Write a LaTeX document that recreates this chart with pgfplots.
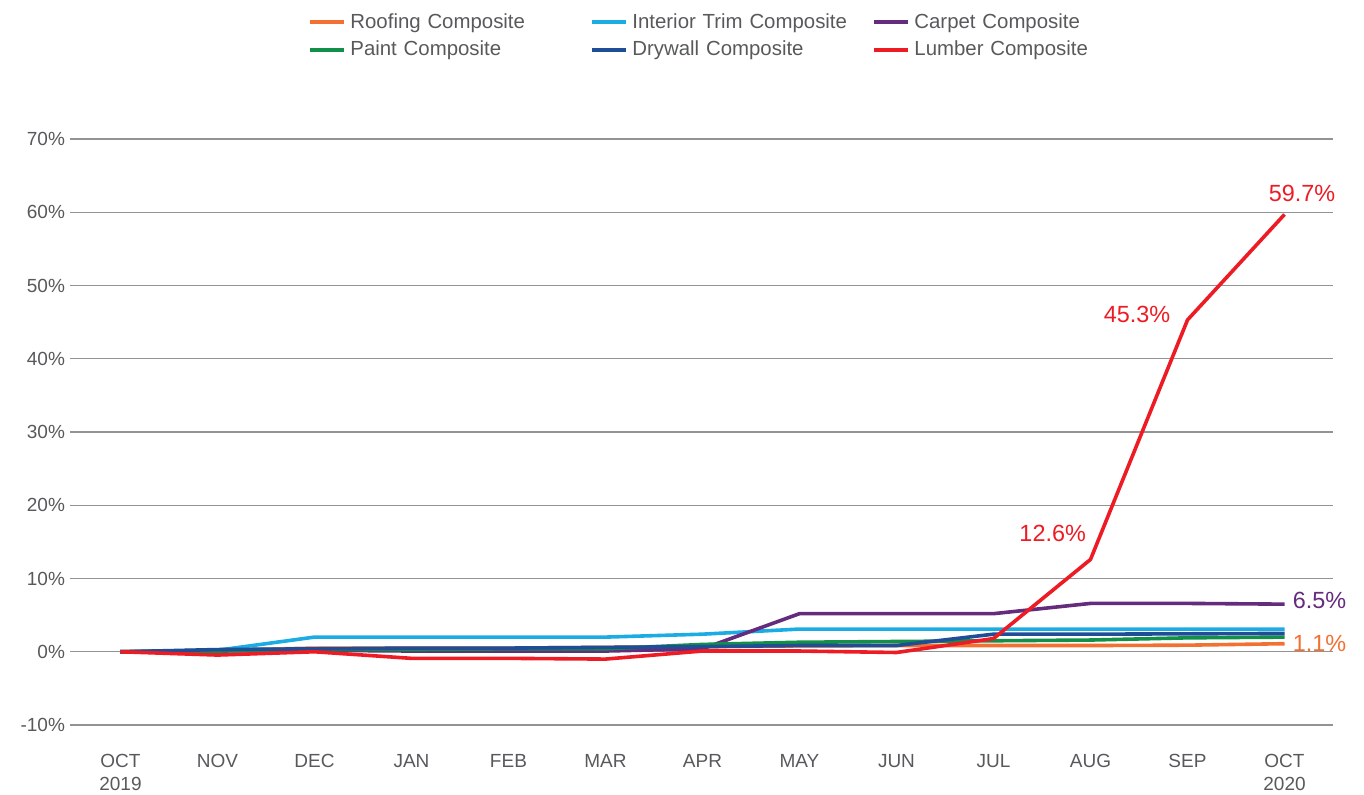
\documentclass[border=0pt]{standalone}
\usepackage{pgfplots}
\pgfplotsset{compat=1.18}
\usepackage{fontspec}
\setmainfont{Liberation Sans}
\definecolor{roof}{HTML}{F37033}
\definecolor{trim}{HTML}{1AACE3}
\definecolor{carpet}{HTML}{652C7E}
\definecolor{paint}{HTML}{12904A}
\definecolor{dry}{HTML}{1F4E96}
\definecolor{lumber}{HTML}{ED1C24}
\definecolor{txt}{HTML}{58595B}
\begin{document}
\begin{tikzpicture}
\useasboundingbox (-35pt,-34.5pt) rectangle (647pt,362.5pt);
\begin{axis}[
  scale only axis,
  width=631.5pt, height=293pt,
  xmin=-0.52, xmax=12.5,
  ymin=-10, ymax=70,
  clip mode=individual,
  axis line style={draw=none},
  tick style={draw=none},
  ymajorgrids,
  major grid style={draw=gray!85, line width=0.6pt},
  xtick={0,...,12},
  xticklabels={OCT\\2019,NOV,DEC,JAN,FEB,MAR,APR,MAY,JUN,JUL,AUG,SEP,OCT\\2020},
  xticklabel style={align=center, font=\fontsize{9.5}{11.5}\selectfont, text=txt, anchor=north, yshift=-11pt},
  ytick={-10,0,...,70},
  yticklabels={-10\%,0\%,10\%,20\%,30\%,40\%,50\%,60\%,70\%},
  yticklabel style={font=\fontsize{9.5}{12}\selectfont, text=txt, xshift=1pt},
  legend columns=3,
  legend style={draw=none, fill=none, at={(0.1837,1.229)}, anchor=north west,
    font=\fontsize{10.2}{14}\selectfont, text=txt,
    nodes={text width=118pt, align=left},
    /tikz/every odd column/.append style={column sep=0pt},
    row sep=1pt},
  legend image code/.code={\draw[#1, line width=2pt] (0pt,0pt) -- (17pt,0pt);},
  every axis plot/.append style={line width=1.8pt, line join=round},
]
\addplot[roof] coordinates {(0,0) (1,0.2) (2,0.5) (3,0.5) (4,0.5) (5,0.6) (6,0.7) (7,0.8) (8,0.85) (9,0.85) (10,0.85) (11,0.9) (12,1.1)};
\addlegendentry{Roofing Composite}
\addplot[trim] coordinates {(0,0) (1,0.2) (2,2.0) (3,2.0) (4,2.0) (5,2.0) (6,2.4) (7,3.1) (8,3.1) (9,3.1) (10,3.1) (11,3.1) (12,3.1)};
\addlegendentry{Interior Trim Composite}
\addplot[carpet] coordinates {(0,0) (1,0.1) (2,0.2) (3,0.1) (4,0.1) (5,0.1) (6,0.4) (7,5.2) (8,5.2) (9,5.2) (10,6.6) (11,6.6) (12,6.5)};
\addlegendentry{Carpet Composite}
\addplot[paint] coordinates {(0,0) (1,0.1) (2,0.3) (3,0.3) (4,0.4) (5,0.4) (6,1.0) (7,1.3) (8,1.4) (9,1.5) (10,1.6) (11,1.9) (12,2.0)};
\addlegendentry{Paint Composite}
\addplot[dry] coordinates {(0,0) (1,0.3) (2,0.4) (3,0.5) (4,0.5) (5,0.6) (6,0.7) (7,0.85) (8,0.85) (9,2.4) (10,2.4) (11,2.45) (12,2.5)};
\addlegendentry{Drywall Composite}
\addplot[lumber] coordinates {(0,0) (1,-0.45) (2,0.0) (3,-0.9) (4,-0.9) (5,-1.0) (6,0.1) (7,0.1) (8,-0.1) (9,1.8) (10,12.6) (11,45.3) (12,59.7)};
\addlegendentry{Lumber Composite}
\node[text=lumber, font=\fontsize{11.7}{14}\selectfont] at (axis cs:12.18,62.6) {59.7\%};
\node[text=lumber, font=\fontsize{11.7}{14}\selectfont] at (axis cs:10.48,46.0) {45.3\%};
\node[text=lumber, font=\fontsize{11.7}{14}\selectfont] at (axis cs:9.61,16.2) {12.6\%};
\node[text=carpet, font=\fontsize{11.7}{14}\selectfont] at (axis cs:12.36,7.0) {6.5\%};
\node[text=roof, font=\fontsize{11.7}{14}\selectfont] at (axis cs:12.36,1.1) {1.1\%};
\end{axis}
\end{tikzpicture}
\end{document}
